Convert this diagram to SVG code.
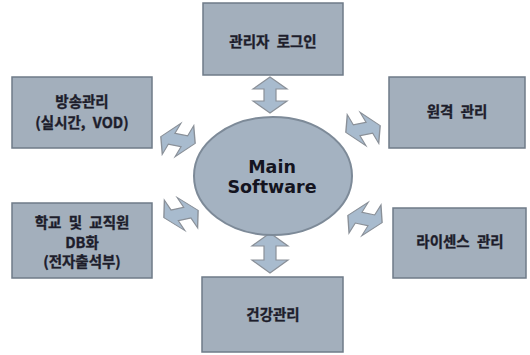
<svg xmlns="http://www.w3.org/2000/svg" xmlns:xlink="http://www.w3.org/1999/xlink" width="530" height="355" viewBox="0 0 530 355">
  <style>
    .box { fill: #a3afbc; stroke: #6f7b88; stroke-width: 1.5; }
    .lbl { font-family: "Noto Sans CJK KR", "Liberation Sans", sans-serif; font-size: 14.5px; font-weight: bold; fill: #1d1d2b; stroke: #1d1d2b; stroke-width: 0.35; text-anchor: middle; word-spacing: 4px; }
    .main { font-family: "DejaVu Sans", "Liberation Sans", sans-serif; font-size: 17.5px; font-weight: bold; fill: #141420; text-anchor: middle; }
    .arr { fill: #a8bbce; stroke: #8a9098; stroke-width: 1.2; stroke-linejoin: miter; }
  </style>
  <defs>
    <path id="harrow" d="M -17.5 0 L -6.5 -17 L -6.5 -6 L 6.5 -6 L 6.5 -17 L 17.5 0 L 6.5 17 L 6.5 6 L -6.5 6 L -6.5 17 Z"/>
  </defs>
  <rect width="530" height="355" fill="#ffffff"/>

  <g id="connectors">
    <path class="arr" d="M270 77 L287 89 L276 89 L276 101 L287 101 L270 113 L253 101 L264 101 L264 89 L253 89 Z"/>
    <path class="arr" d="M270 233 L288 246 L276 246 L276 260 L288 260 L270 273 L252 260 L264 260 L264 246 L252 246 Z"/>
    <use xlink:href="#harrow" href="#harrow" class="arr" transform="translate(178,140) rotate(11) skewX(-20)"/>
    <use xlink:href="#harrow" href="#harrow" class="arr" transform="translate(363,129) rotate(-11) skewX(20)"/>
    <use xlink:href="#harrow" href="#harrow" class="arr" transform="translate(181,214) rotate(-12) skewX(22)"/>
    <use xlink:href="#harrow" href="#harrow" class="arr" transform="translate(365,219) rotate(12) skewX(-20)"/>
  </g>

  <g id="main">
    <ellipse cx="273" cy="176" rx="79" ry="59" fill="#a4b2c1" stroke="#7d8a98" stroke-width="2"/>
    <text class="main" x="272" y="173">Main</text>
    <text class="main" x="272" y="193">Software</text>
  </g>

  <g id="admin-login">
    <rect class="box" x="203" y="3" width="140" height="72"/>
    <text class="lbl" x="273" y="47">관리자 로그인</text>
  </g>

  <g id="broadcast">
    <rect class="box" x="12" y="77" width="140" height="71"/>
    <text class="lbl" x="82" y="107">방송관리</text>
    <text class="lbl" x="82" y="128">(실시간, VOD)</text>
  </g>

  <g id="remote">
    <rect class="box" x="389" y="77" width="136" height="71"/>
    <text class="lbl" x="457" y="117">원격 관리</text>
  </g>

  <g id="school-db">
    <rect class="box" x="12" y="203" width="140" height="75"/>
    <text class="lbl" x="82" y="228">학교 및 교직원</text>
    <text class="lbl" x="82" y="248">DB화</text>
    <text class="lbl" x="82" y="267">(전자출석부)</text>
  </g>

  <g id="license">
    <rect class="box" x="393" y="208" width="133" height="70"/>
    <text class="lbl" x="460" y="247">라이센스 관리</text>
  </g>

  <g id="health">
    <rect class="box" x="202" y="277" width="141" height="75"/>
    <text class="lbl" x="273" y="320">건강관리</text>
  </g>
</svg>
